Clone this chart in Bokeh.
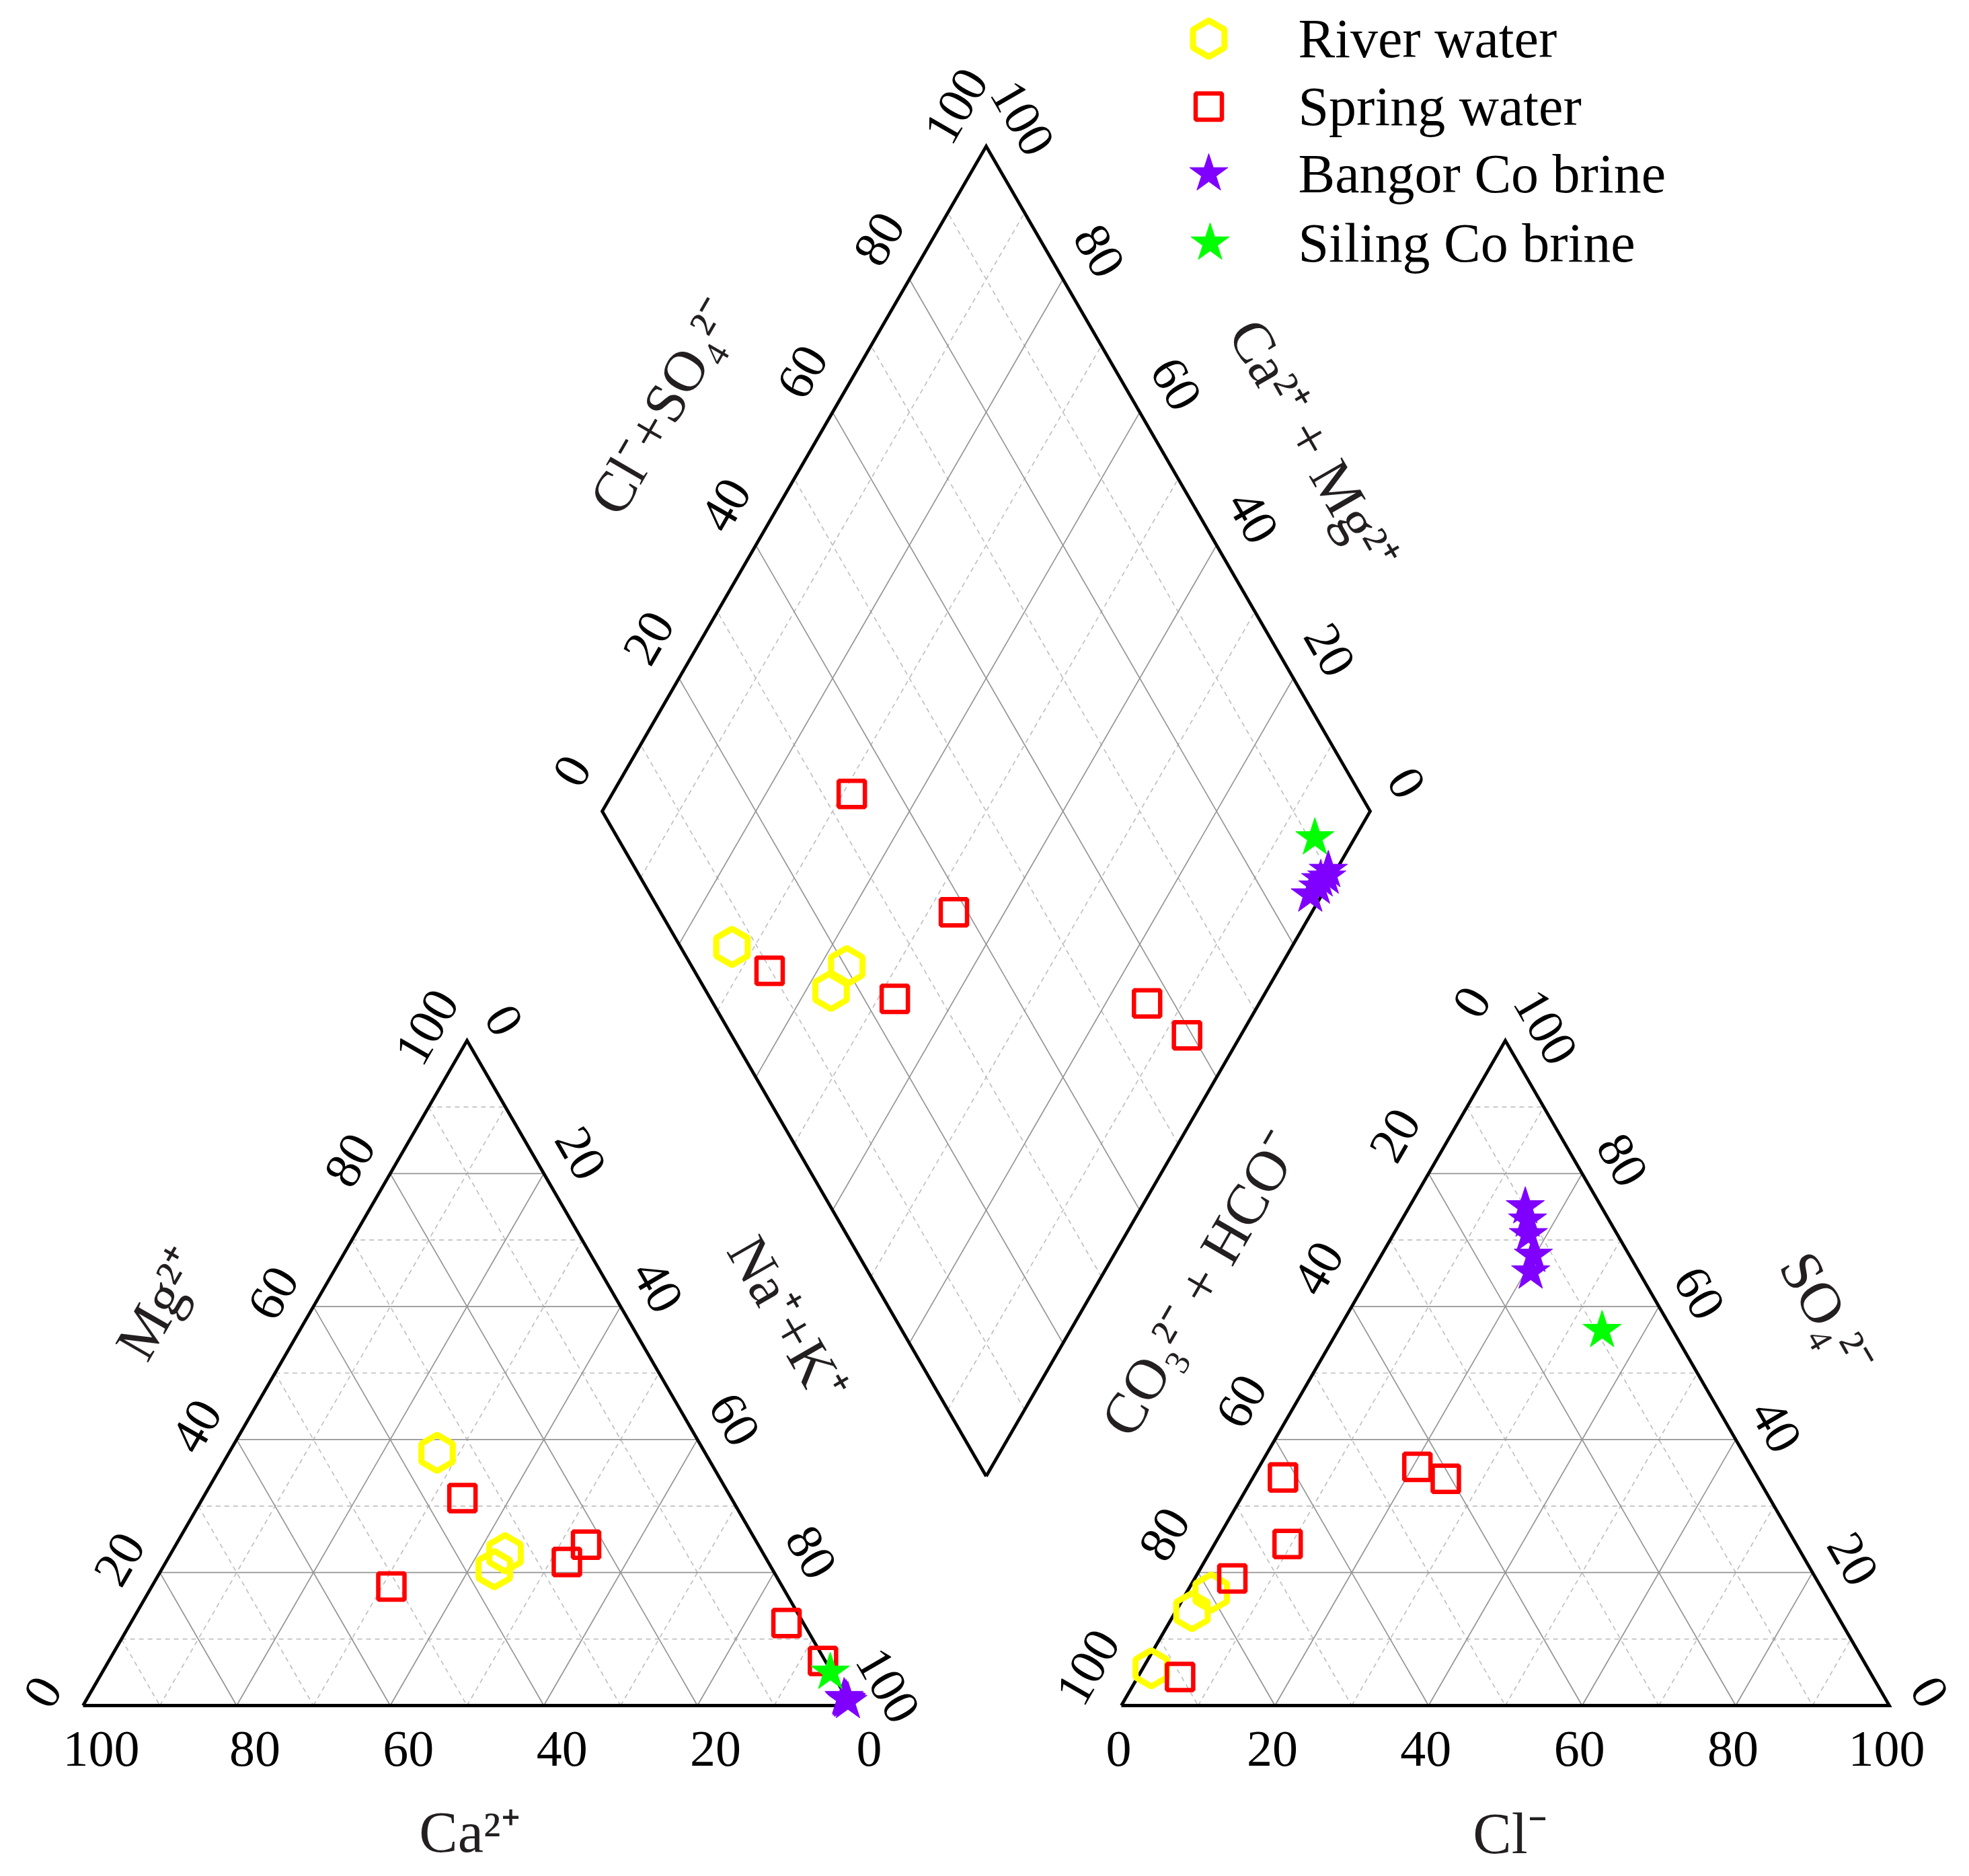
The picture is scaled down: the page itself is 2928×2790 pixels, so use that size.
import numpy as np
from bokeh.plotting import figure
from bokeh.models import Range1d
from bokeh.embed import file_html
from bokeh.resources import INLINE
from bokeh.core.properties import value

# ---------------- data (percent of meq) ----------------
# cations: Ca2+, Mg2+, Na+ + K+ ; anions: CO3 + HCO3, SO4, Cl
river_ca = [34.9, 33.6, 36.2]
river_mg = [38.0, 22.9, 20.5]
river_na = [27.1, 43.5, 43.3]
river_hco3 = [93.3, 79.8, 83.7]
river_so4 = [5.6, 17.0, 14.2]
river_cl = [1.1, 3.2, 2.1]

spring_ca = [50.9, 22.4, 35.0, 26.2, 2.2, 0.3]
spring_mg = [17.9, 24.2, 31.2, 21.6, 12.4, 6.7]
spring_na = [31.2, 53.4, 33.8, 52.2, 85.4, 93.0]
spring_hco3 = [66.2, 61.8, 90.2, 76.0, 43.5, 40.7]
spring_so4 = [24.3, 34.3, 4.3, 19.1, 35.9, 34.1]
spring_cl = [9.5, 3.9, 5.5, 4.9, 20.6, 25.2]

bangor_ca = [0.2, 0.1, 0.3, 0.2, 0.3]
bangor_mg = [0.8, 0.6, 1.0, 0.9, 1.2]
bangor_na = [99.0, 99.3, 98.7, 98.9, 98.5]
bangor_hco3 = [9.9, 10.6, 11.6, 12.5, 14.1]
bangor_so4 = [75.0, 73.0, 70.8, 67.7, 65.2]
bangor_cl = [15.1, 16.4, 17.6, 19.8, 20.7]

siling_ca = [0.2]
siling_mg = [5.0]
siling_na = [94.8]
siling_hco3 = [9.2]
siling_so4 = [56.4]
siling_cl = [34.4]

tick_values = [0, 20, 40, 60, 80, 100]
tick_labels = ["0", "20", "40", "60", "80", "100"]

# ---------------- geometry (page pixels) ----------------
S = 1142.0
H = S * np.sqrt(3) / 2
X0L, X0R, Y0 = 123.0, 1667.0, 2536.0
BX, BY = 1466.0, 2195.0  # diamond bottom vertex

def pos_c(ca, mg, na):
    ca, mg, na = (np.asarray(v, float) for v in (ca, mg, na))
    return X0L + S * (na + mg / 2) / 100, Y0 - H * mg / 100

def pos_a(hco3, so4, cl):
    hco3, so4, cl = (np.asarray(v, float) for v in (hco3, so4, cl))
    return X0R + S * (cl + so4 / 2) / 100, Y0 - H * so4 / 100

def pos_d(clso4, camg):
    a = np.asarray(clso4, float) / 100
    b = np.asarray(camg, float) / 100
    return BX + a * (S / 2) - b * (S / 2), BY - a * H - b * H

W, HT = 2920, 2782
p = figure(width=W, height=HT, x_range=Range1d(0, W), y_range=Range1d(HT, 0),
           output_backend="svg", toolbar_location=None, min_border=0)
p.axis.visible = False
p.grid.visible = False
p.outline_line_color = None
p.background_fill_color = "white"

# ---------------- grid ----------------
solid_x, solid_y, dash_x, dash_y = [], [], [], []
for v in range(10, 100, 10):
    segs = []
    for a, b in [((100 - v, v, 0), (0, v, 100 - v)),
                 ((v, 100 - v, 0), (v, 0, 100 - v)),
                 ((100 - v, 0, v), (0, 100 - v, v))]:
        x1, y1 = pos_c(*a); x2, y2 = pos_c(*b)
        segs.append(([float(x1), float(x2)], [float(y1), float(y2)]))
        x1, y1 = pos_a(*a); x2, y2 = pos_a(*b)
        segs.append(([float(x1), float(x2)], [float(y1), float(y2)]))
    for a, b in [((v, 0), (v, 100)), ((0, v), (100, v))]:
        x1, y1 = pos_d(*a); x2, y2 = pos_d(*b)
        segs.append(([float(x1), float(x2)], [float(y1), float(y2)]))
    for sx, sy in segs:
        if v % 20 == 0:
            solid_x.append(sx); solid_y.append(sy)
        else:
            dash_x.append(sx); dash_y.append(sy)

p.multi_line(dash_x, dash_y, line_color="#c0c0c0", line_width=1.7, line_dash="7 6")
p.multi_line(solid_x, solid_y, line_color="#959595", line_width=1.7)

# ---------------- outlines ----------------
tx, ty = pos_c([100, 0, 0, 100], [0, 0, 100, 0], [0, 100, 0, 0])
p.line(tx, ty, line_color="black", line_width=4.8, line_join="miter")
tx, ty = pos_a([100, 0, 0, 100], [0, 0, 100, 0], [0, 100, 0, 0])
p.line(tx, ty, line_color="black", line_width=4.8, line_join="miter")
dx, dy = pos_d([0, 100, 100, 0, 0], [0, 0, 100, 100, 0])
p.line(dx, dy, line_color="black", line_width=4.8, line_join="miter")

# ---------------- tick labels ----------------
FONT = value("Liberation Serif")
def add_labels(xs, ys, texts, angle, size="76px", color="black", align="center"):
    p.text(x=list(map(float, xs)), y=list(map(float, ys)), text=texts, angle=angle,
           text_font=FONT, text_font_size=size, text_color=color,
           text_align=align, text_baseline="middle")

tv = np.array(tick_values, float)
A60 = np.pi / 3
# left triangle
x, y = pos_c(tv, 0 * tv, 100 - tv); add_labels(x + 27, y + 64, tick_labels, 0)
x, y = pos_c(100 - tv, tv, 0 * tv); add_labels(x - 60, y - 20, tick_labels, A60)
x, y = pos_c(0 * tv, 100 - tv, tv); add_labels(x + 55, y - 30, tick_labels, -A60)
# right triangle
x, y = pos_a(100 - tv, 0 * tv, tv); add_labels(x - 4, y + 64, tick_labels, 0)
x, y = pos_a(tv, 100 - tv, 0 * tv); add_labels(x - 50, y - 57, tick_labels, A60)
x, y = pos_a(0 * tv, tv, 100 - tv); add_labels(x + 60, y - 20, tick_labels, -A60)
# diamond
x, y = pos_d(tv, 100 + 0 * tv); add_labels(x - 45, y - 60, tick_labels, A60)
x, y = pos_d(100 + 0 * tv, tv); add_labels(x + 54, y - 42, tick_labels, -A60)

# ---------------- axis titles ----------------
TC = "#231f20"
add_labels([698], [2724], ["Ca²⁺"], 0, "86px", TC)
add_labels([2245], [2726], ["Cl⁻"], 0, "86px", TC)
add_labels([237], [1938], ["Mg²⁺"], A60, "86px", TC)
add_labels([1171], [1962], ["Na⁺+K⁺"], -A60, "86px", TC)
add_labels([986], [604], ["Cl⁻+SO₄²⁻"], A60, "86px", TC)
add_labels([1953], [662], ["Ca²⁺ + Mg²⁺"], -A60, "86px", TC)
add_labels([1785], [1908], ["CO₃²⁻ + HCO⁻"], A60, "86px", TC)
add_labels([2717], [1953], ["SO₄²⁻"], -A60, "86px", TC)

# ---------------- samples ----------------
def all_pos(ca, mg, na, hco3, so4, cl):
    cx, cy = pos_c(ca, mg, na)
    ax, ay = pos_a(hco3, so4, cl)
    ddx, ddy = pos_d(np.asarray(so4) + np.asarray(cl), np.asarray(ca) + np.asarray(mg))
    return (list(cx) + list(ax) + list(ddx)), (list(cy) + list(ay) + list(ddy))

HEX = dict(marker="hex", size=54, angle=np.pi / 6, fill_color=None, line_color="#ffff00", line_width=9)
SQ = dict(marker="square", size=39, fill_color=None, line_color="#ff0000", line_width=6.5)
PST = dict(marker="star", size=60, fill_color="#7f00ff", line_color="#7f00ff", line_width=1)
GST = dict(marker="star", size=60, fill_color="#00ff00", line_color="#00ff00", line_width=1)

rx, ry = all_pos(river_ca, river_mg, river_na, river_hco3, river_so4, river_cl)
p.scatter(rx, ry, **HEX)
sx, sy = all_pos(spring_ca, spring_mg, spring_na, spring_hco3, spring_so4, spring_cl)
p.scatter(sx, sy, **SQ)
bx, by = all_pos(bangor_ca, bangor_mg, bangor_na, bangor_hco3, bangor_so4, bangor_cl)
p.scatter(bx, by, **PST)
gx, gy = all_pos(siling_ca, siling_mg, siling_na, siling_hco3, siling_so4, siling_cl)
p.scatter(gx, gy, **GST)

# ---------------- legend ----------------
leg_y = [57, 158, 258, 361]
p.scatter([1797], [leg_y[0]], **HEX)
p.scatter([1797], [leg_y[1]], **SQ)
p.scatter([1797], [leg_y[2]], **PST)
p.scatter([1799], [leg_y[3]], **GST)
leg_names = ["River water", "Spring water", "Bangor Co brine", "Siling Co brine"]
add_labels([1930] * 4, leg_y, leg_names, 0, "82px", "black", "left")

open("out.html", "w").write(file_html(p, INLINE))
